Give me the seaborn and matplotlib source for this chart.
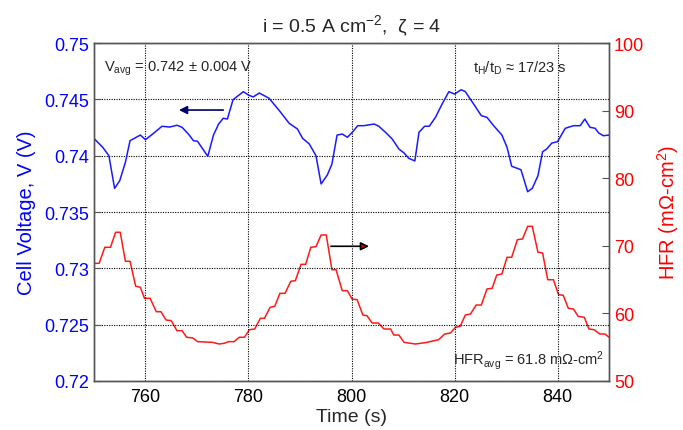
import matplotlib
matplotlib.use("Agg")
import matplotlib.pyplot as plt
import seaborn as sns
import pandas as pd

# ---- data ----
v_time = [750.1, 751.7, 752.9, 754.0, 755.0, 756.1, 757.0, 759.0, 760.0, 761.8, 763.2, 764.7,
          766.1, 767.1, 768.5, 769.3, 770.1, 772.1, 773.2, 774.2, 775.1, 775.9, 777.0, 779.0,
          780.0, 780.9, 782.1, 784.0, 786.0, 787.9, 789.5, 790.5, 791.8, 793.1, 794.1, 795.3,
          796.2, 797.2, 798.2, 799.2, 800.3, 801.2, 802.4, 804.4, 805.3, 806.6, 807.9, 809.2,
          810.2, 811.1, 812.3, 813.1, 814.2, 815.1, 816.3, 817.6, 818.9, 820.0, 821.3, 822.1,
          823.7, 825.2, 826.3, 827.6, 829.2, 830.2, 831.1, 832.9, 834.2, 835.1, 836.2, 837.1,
          837.9, 838.9, 840.0, 841.5, 843.1, 844.4, 845.3, 846.3, 847.3, 848.0, 848.9, 850.0]
voltage = [0.74148, 0.74074, 0.73999, 0.73710, 0.73778, 0.73941, 0.74133, 0.74183, 0.74142,
           0.74207, 0.74261, 0.74254, 0.74270, 0.74252, 0.74183, 0.74133, 0.74128, 0.73994,
           0.74183, 0.74281, 0.74332, 0.74325, 0.74497, 0.74568, 0.74538, 0.74521, 0.74556,
           0.74509, 0.74399, 0.74287, 0.74237, 0.74154, 0.74104, 0.74000, 0.73749, 0.73828,
           0.73926, 0.74183, 0.74192, 0.74163, 0.74215, 0.74266, 0.74266, 0.74281, 0.74261,
           0.74207, 0.74148, 0.74059, 0.74024, 0.73977, 0.73953, 0.74207, 0.74261, 0.74261,
           0.74340, 0.74459, 0.74568, 0.74547, 0.74585, 0.74568, 0.74459, 0.74355, 0.74340,
           0.74266, 0.74183, 0.74074, 0.73906, 0.73875, 0.73680, 0.73710, 0.73822, 0.74035,
           0.74059, 0.74112, 0.74124, 0.74243, 0.74266, 0.74266, 0.74325, 0.74252, 0.74243,
           0.74201, 0.74177, 0.74183]

h_time = [750.1, 751.0, 752.1, 753.2, 754.2, 755.1, 756.1, 757.0, 758.1, 759.0, 759.8, 760.9,
          762.1, 763.0, 764.0, 765.0, 766.1, 767.1, 768.0, 769.2, 770.1, 773.0, 774.3, 775.3,
          776.1, 777.2, 778.2, 779.2, 780.2, 781.2, 782.3, 783.1, 784.2, 785.1, 786.1, 787.1,
          788.2, 789.1, 790.2, 791.1, 792.1, 793.1, 794.1, 795.1, 796.2, 797.0, 798.2, 799.2,
          800.1, 801.1, 802.2, 803.0, 804.0, 805.2, 806.3, 807.6, 808.2, 809.2, 810.2, 812.4,
          814.7, 816.0, 816.9, 818.1, 819.2, 820.2, 821.1, 822.1, 823.1, 824.2, 825.2, 826.3,
          827.3, 828.2, 829.2, 830.2, 831.1, 832.2, 833.2, 834.2, 835.1, 836.2, 837.1, 838.1,
          839.2, 840.2, 841.1, 842.1, 843.1, 844.0, 845.2, 846.1, 847.1, 848.2, 849.2, 850.0]
hfr = [67.41, 67.41, 69.78, 69.78, 72.00, 72.00, 67.71, 67.71, 64.01, 63.86, 62.23, 62.23,
       60.25, 60.25, 59.02, 58.92, 57.44, 57.44, 56.47, 56.36, 55.82, 55.72, 55.47, 55.58,
       55.82, 55.82, 56.47, 56.47, 57.59, 57.69, 59.27, 59.27, 60.90, 61.05, 62.97, 62.97,
       64.75, 64.84, 67.26, 67.26, 69.78, 69.87, 71.60, 71.60, 66.46, 66.46, 63.36, 63.36,
       62.13, 62.03, 59.76, 59.66, 58.58, 58.58, 57.69, 57.69, 56.80, 56.80, 55.72, 55.47,
       55.72, 55.96, 56.11, 56.95, 57.10, 57.94, 58.09, 59.76, 59.91, 61.24, 61.24, 63.61,
       63.71, 65.68, 65.83, 68.30, 68.30, 70.90, 71.01, 72.88, 72.88, 69.04, 68.93, 64.98,
       64.98, 62.77, 62.68, 60.75, 60.65, 59.57, 59.42, 57.69, 57.59, 56.95, 56.95, 56.47]

x_ticks = [760, 780, 800, 820, 840]
v_ticks = [0.72, 0.725, 0.73, 0.735, 0.74, 0.745, 0.75]
v_ticklabels = ["0.72", "0.725", "0.73", "0.735", "0.74", "0.745", "0.75"]
h_ticks = [50, 60, 70, 80, 90, 100]

title = "i = 0.5 A cm$^{-2}$,  ζ = 4"
note_v = r"V$_{\mathrm{avg}}$ = 0.742 ± 0.004 V"
note_t = r"t$_{\mathrm{H}}$/t$_{\mathrm{D}}$ ≈ 17/23 s"
note_h = r"HFR$_{\mathrm{avg}}$ = 61.8 mΩ-cm$^{2}$"

df_v = pd.DataFrame({"t": v_time, "v": voltage})
df_h = pd.DataFrame({"t": h_time, "h": hfr})

sns.set_style("white")
plt.rcParams["font.family"] = ["Liberation Sans", "DejaVu Sans"]
plt.rcParams["mathtext.fontset"] = "custom"
plt.rcParams["mathtext.rm"] = "Liberation Sans"
plt.rcParams["mathtext.it"] = "Liberation Sans"

fig = plt.figure(figsize=(6.83, 4.31), dpi=100)
ax = fig.add_axes([0.1376, 0.1137, 0.7541, 0.7842])
ax2 = ax.twinx()

blue = "#1a1aff"
red = "#ff1a1a"

sns.lineplot(data=df_v, x="t", y="v", ax=ax, color=blue, linewidth=1.1, estimator=None)
sns.lineplot(data=df_h, x="t", y="h", ax=ax2, color=red, linewidth=1.1, estimator=None)

ax.set_xlim(750, 850)
ax.set_ylim(0.72, 0.75)
ax2.set_ylim(50, 100)
ax.set_xticks(x_ticks)
ax.set_yticks(v_ticks)
ax.set_yticklabels(v_ticklabels)
ax2.set_yticks(h_ticks)

for a in (ax, ax2):
    for s in a.spines.values():
        s.set_color("#555555")
        s.set_linewidth(1.0)
        s.set_visible(True)

ax.grid(True, which="major", linestyle=(0, (1, 1.2)), color="black", linewidth=0.8)
ax.set_axisbelow(True)

ax.tick_params(axis="x", direction="in", length=5, labelsize=13, pad=5, colors="black")
ax.tick_params(axis="y", direction="in", length=5, labelsize=13, labelcolor="blue", color="#555555")
ax2.tick_params(axis="y", direction="in", length=5, labelsize=13, labelcolor="red", color="#555555")

ax.set_xlabel("Time (s)", fontsize=14, labelpad=2)
ax.set_ylabel("Cell Voltage, V (V)", fontsize=14.5, color="blue", labelpad=6)
ax2.set_ylabel("HFR (mΩ-cm$^{2}$)", fontsize=14.5, color="red", labelpad=8)
ax.set_title(title, fontsize=14, pad=8)

ax.text(0.02, 0.955, note_v, transform=ax.transAxes, fontsize=10.5, va="top", ha="left")
ax.text(0.735, 0.955, note_t, transform=ax.transAxes, fontsize=10.5, va="top", ha="left")
ax.text(0.99, 0.03, note_h, transform=ax.transAxes, fontsize=10.5, va="bottom", ha="right")

# arrows indicating axis association
ax.annotate("", xy=(766.5, 0.74405), xytext=(775.1, 0.74405),
            arrowprops=dict(arrowstyle="-|>", fc="#000066", ec="#000066", lw=1.2,
                            mutation_scale=12, shrinkA=0, shrinkB=0))
ax2.annotate("", xy=(803.4, 69.93), xytext=(796.0, 69.93),
             arrowprops=dict(arrowstyle="-|>", fc="#dd0000", ec="black", lw=1.2,
                             mutation_scale=12, shrinkA=0, shrinkB=0))

ax.set_zorder(ax2.get_zorder() + 1)
ax.patch.set_visible(False)

fig.savefig("out.png", dpi=100)
